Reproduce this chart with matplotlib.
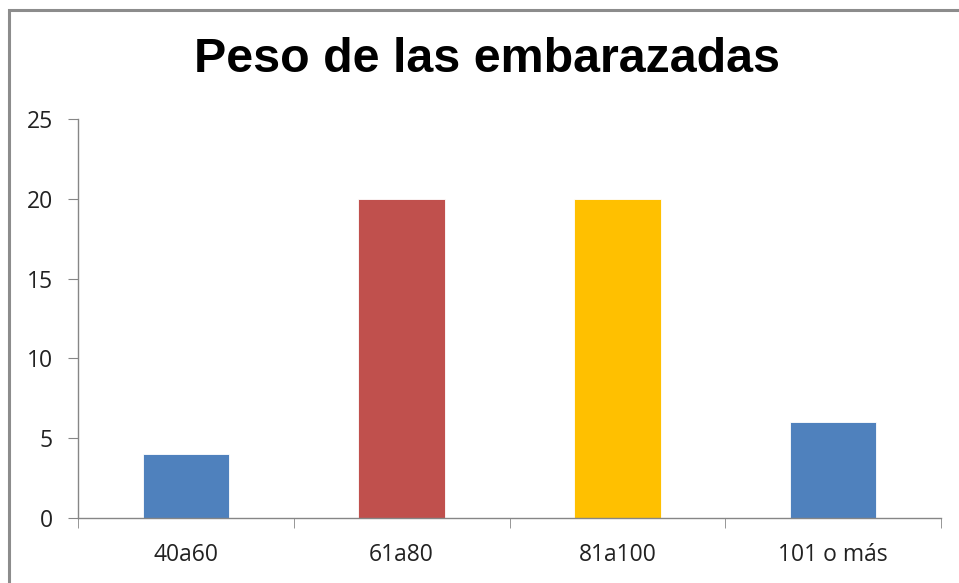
import matplotlib
matplotlib.use("Agg")
import matplotlib.pyplot as plt
from matplotlib.patches import Rectangle

# datos del grafico
categorias = ["40a60", "61a80", "81a100", "101 o más"]
valores = [4, 20, 20, 6]
colores = ["#4F81BD", "#C0504D", "#FFC000", "#4F81BD"]
ticks_y = [0, 5, 10, 15, 20, 25]

W, H = 959, 583
fig = plt.figure(figsize=(W / 100, H / 100), dpi=100)

# marco del grafico (solo se ven los bordes superior e izquierdo)
fig.patches.append(Rectangle((9 / W, -0.1), 1.2, (H - 10) / H + 0.1, transform=fig.transFigure,
                             fill=False, edgecolor="#8C8C8C", linewidth=2.2))

ax = fig.add_axes([78 / W, (H - 518) / H, (941 - 78) / W, (518 - 119) / H])
x = range(len(categorias))
ax.bar(x, valores, width=0.4, color=colores, edgecolor="white", linewidth=0.6, zorder=2)

ax.set_xlim(-0.5, len(categorias) - 0.5)
ax.set_ylim(0, 25)
ax.set_yticks(ticks_y)
ax.set_xticks(list(x))
ax.set_xticklabels(categorias)
ax.set_xticks([i - 0.5 for i in range(len(categorias) + 1)], minor=True)

for s in ["top", "right"]:
    ax.spines[s].set_visible(False)
for s in ["left", "bottom"]:
    ax.spines[s].set_color("#868686")
    ax.spines[s].set_linewidth(1.0)

ax.tick_params(axis="y", length=7, color="#868686", labelsize=16.5, labelcolor="#222222", pad=11)
ax.tick_params(axis="x", which="major", length=0, labelsize=16.5, labelcolor="#222222", pad=18)
ax.tick_params(axis="x", which="minor", length=7, color="#868686")
for lab in ax.get_xticklabels() + ax.get_yticklabels():
    lab.set_family(["Open Sans", "DejaVu Sans"])

fig.text(487 / W, 1 - 60 / H, "Peso de las embarazadas", ha="center", va="center",
         fontsize=34.8, fontweight="bold", family=["Liberation Sans", "DejaVu Sans"])

fig.savefig("out.png", dpi=100)
